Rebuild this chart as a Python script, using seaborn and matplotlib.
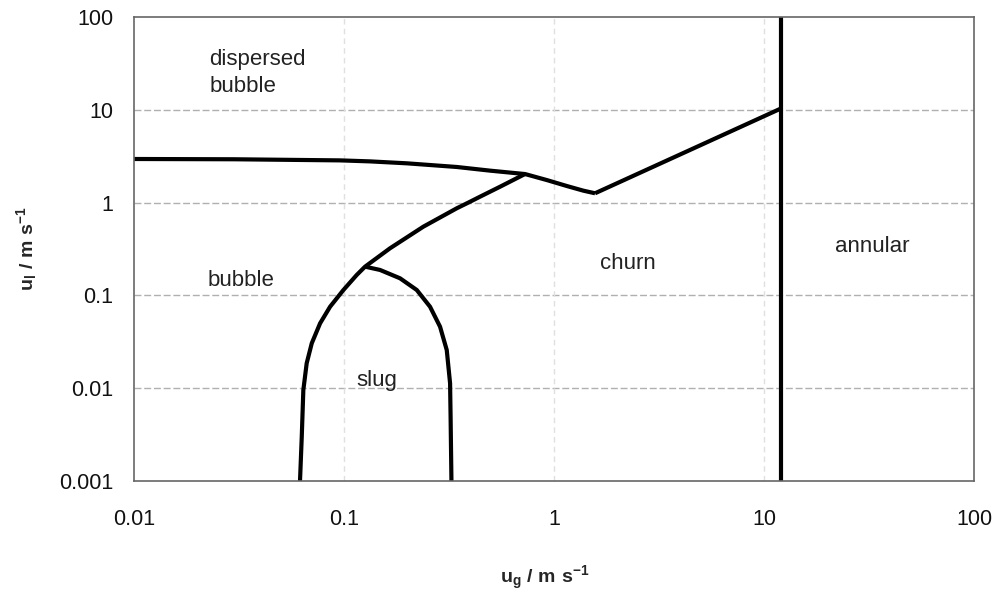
import matplotlib
matplotlib.use("Agg")
import matplotlib.pyplot as plt
import seaborn as sns
import pandas as pd

sns.set_theme(style="white")
plt.rcParams["font.family"] = ["Liberation Sans", "DejaVu Sans"]
plt.rcParams["mathtext.fontset"] = "custom"
plt.rcParams["mathtext.rm"] = "Liberation Sans:bold"
plt.rcParams["mathtext.it"] = "Liberation Sans:bold"
plt.rcParams["mathtext.bf"] = "Liberation Sans:bold"

# Flow-regime boundaries (superficial gas velocity ug, liquid velocity ul, m/s)
dispersed_ug = [0.01, 0.03, 0.0957, 0.133, 0.199, 0.344, 0.495, 0.728, 0.923, 1.149, 1.379, 1.567]
dispersed_ul = [2.95, 2.93, 2.85, 2.78, 2.65, 2.42, 2.21, 2.03, 1.75, 1.51, 1.344, 1.26]

churn_ug = [1.567, 12.0]
churn_ul = [1.26, 10.3]

annular_ug = [12.0, 12.0]
annular_ul = [0.001, 100.0]

bubble_ug = [0.0617, 0.0629, 0.064, 0.0664, 0.0702, 0.0769, 0.0858, 0.0992, 0.1149,
             0.1259, 0.1656, 0.2385, 0.344, 0.3907, 0.4442, 0.5533, 0.7276]
bubble_ul = [0.001, 0.003, 0.00956, 0.0186, 0.0305, 0.05, 0.0755, 0.114, 0.166,
             0.204, 0.322, 0.55, 0.868, 1.0, 1.158, 1.483, 2.033]

slug_ug = [0.1259, 0.1484, 0.1848, 0.222, 0.2567, 0.2865, 0.3083, 0.3198, 0.3216, 0.3246]
slug_ul = [0.204, 0.188, 0.1528, 0.1143, 0.0755, 0.046, 0.0258, 0.0113, 0.00493, 0.001]

region_names = ["dispersed\nbubble", "bubble", "slug", "churn", "annular"]
region_ug = [0.0228, 0.0225, 0.115, 1.66, 21.8]
region_ul = [25.0, 0.143, 0.0122, 0.223, 0.34]

xtick_values = [0.01, 0.1, 1, 10, 100]
xtick_labels = ["0.01", "0.1", "1", "10", "100"]
ytick_values = [0.001, 0.01, 0.1, 1, 10, 100]
ytick_labels = ["0.001", "0.01", "0.1", "1", "10", "100"]

fig = plt.figure(figsize=(9.95, 5.92), dpi=100)
ax = fig.add_axes([0.1347, 0.1875, 0.8443, 0.7838])

curves = [
    (dispersed_ug, dispersed_ul),
    (churn_ug, churn_ul),
    (annular_ug, annular_ul),
    (bubble_ug, bubble_ul),
    (slug_ug, slug_ul),
]
for xs, ys in curves:
    df = pd.DataFrame({"ug": xs, "ul": ys})
    sns.lineplot(data=df, x="ug", y="ul", sort=False, estimator=None,
                 color="black", lw=3.0, ax=ax, solid_capstyle="butt",
                 solid_joinstyle="round")

ax.set_xscale("log")
ax.set_yscale("log")
ax.set_xlim(0.01, 100)
ax.set_ylim(0.001, 100)

ax.set_xticks(xtick_values)
ax.set_xticklabels(xtick_labels)
ax.set_yticks(ytick_values)
ax.set_yticklabels(ytick_labels)
ax.minorticks_off()
ax.tick_params(axis="x", which="major", direction="out", length=5, width=1,
               color="#555555", pad=15, labelsize=15.5, labelcolor="#111111")
ax.tick_params(axis="y", which="major", direction="out", length=5, width=1,
               color="#555555", pad=10, labelsize=15.5, labelcolor="#111111")

for y in ytick_values[1:-1]:
    ax.axhline(y, color="#b0b0b0", lw=1, ls=(0, (5, 2)), zorder=0)
for x in xtick_values[1:-1]:
    ax.axvline(x, color="#e0e0e0", lw=1, ls=(0, (4, 3)), zorder=0)

for side in ["left", "right", "top", "bottom"]:
    ax.spines[side].set_color("#666666")
    ax.spines[side].set_linewidth(1.2)
    ax.spines[side].set_visible(True)

for name, xv, yv in zip(region_names, region_ug, region_ul):
    ax.text(xv, yv, name, fontsize=16, color="#222222", ha="left", va="center",
            linespacing=1.42)

ax.set_xlabel(r"$\mathrm{u_g\ /\ m\ s^{-1}}$", fontsize=14)
ax.set_ylabel(r"$\mathrm{u_l\ /\ m\ s^{-1}}$", fontsize=14)
ax.xaxis.set_label_coords(0.489, -0.178)
ax.yaxis.set_label_coords(-0.113, 0.5)

fig.savefig("out.png", dpi=100)
